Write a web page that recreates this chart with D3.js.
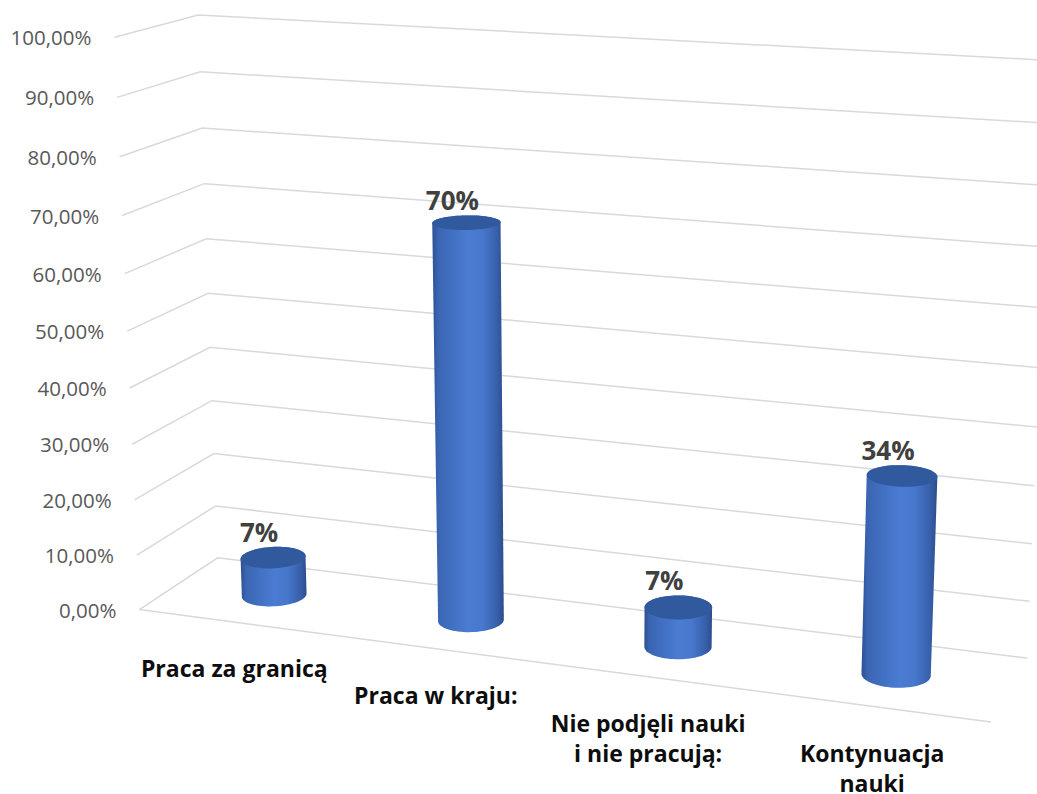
<!DOCTYPE html>
<html>
<head>
<meta charset="utf-8">
<script src="https://cdn.jsdelivr.net/npm/d3@7"></script>
<style>
  body { margin: 0; background: #fff; }
  svg { display: block; }
</style>
</head>
<body>
<div id="chart"></div>
<script>
// ---- data ----
const categories = ["Praca za granicą", "Praca w kraju:", "Nie podjęli nauki\ni nie pracują:", "Kontynuacja\nnauki"];
const values = [0.07, 0.70, 0.07, 0.34];
const yTicks = [0, 0.1, 0.2, 0.3, 0.4, 0.5, 0.6, 0.7, 0.8, 0.9, 1.0];

// ---- layout ----
const width = 1037, height = 794;

// view calibration: box corners of the 3D plot area (x 0..1, value 0..1, depth 0 front..1 back) -> pixels
const frame = [
  [[0, 0, 0], [140, 609]], [[0, 0.5, 0], [127, 332]], [[0, 1, 0], [114, 37]],
  [[0, 0, 1], [217, 558]], [[0, 0.5, 1], [208, 293]], [[0, 1, 1], [199, 15]],
  [[1, 0, 1], [1027, 658]], [[1, 0.2, 1], [1033, 544]], [[1, 0.4, 1], [1036, 427]],
  [[1, 0, 0], [991, 722]]
];

const plFormat = d3.formatLocale({ decimal: ",", thousands: " ", grouping: [3], currency: ["", " zł"] });
const tickFormat = plFormat.format(".2%");
const valueFormat = plFormat.format(".0%");

function solveLinear(M, r) {
  const n = r.length;
  const a = M.map((row, i) => [...row, r[i]]);
  for (let c = 0; c < n; c++) {
    let p = c;
    for (let i = c + 1; i < n; i++) if (Math.abs(a[i][c]) > Math.abs(a[p][c])) p = i;
    [a[c], a[p]] = [a[p], a[c]];
    for (let i = 0; i < n; i++) {
      if (i === c) continue;
      const f = a[i][c] / a[c][c];
      for (let j = c; j <= n; j++) a[i][j] -= f * a[c][j];
    }
  }
  return a.map((row, i) => row[n] / row[i]);
}

// least squares pinhole camera (DLT) from the frame points
function fitCamera(pairs) {
  const A = [], b = [];
  pairs.forEach(([[X, Y, Z], [u, v]]) => {
    u /= 1000; v /= 1000;
    A.push([X, Y, Z, 1, 0, 0, 0, 0, -u * X, -u * Y, -u * Z]); b.push(u);
    A.push([0, 0, 0, 0, X, Y, Z, 1, -v * X, -v * Y, -v * Z]); b.push(v);
  });
  const n = 11;
  const M = d3.range(n).map(i => d3.range(n).map(j => d3.sum(A, row => row[i] * row[j])));
  const r = d3.range(n).map(i => d3.sum(A, (row, k) => row[i] * b[k]));
  const p = solveLinear(M, r);
  return (X, Y, Z) => {
    const w = p[8] * X + p[9] * Y + p[10] * Z + 1;
    return [
      1000 * (p[0] * X + p[1] * Y + p[2] * Z + p[3]) / w,
      1000 * (p[4] * X + p[5] * Y + p[6] * Z + p[7]) / w
    ];
  };
}

const project = fitCamera(frame);

const x = d3.scaleBand().domain(categories).range([0, 1]);
const y = d3.scaleLinear().domain([0, 1]).range([0, 1]);
const zMid = 0.5;
const rX = 0.15 * x.bandwidth();
const rZ = 0.2;

const svg = d3.select("#chart").append("svg")
  .attr("width", width)
  .attr("height", height)
  .attr("viewBox", `0 0 ${width} ${height}`);

const defs = svg.append("defs");
const grad = defs.append("linearGradient")
  .attr("id", "cyl-body")
  .attr("x1", 0).attr("x2", 1).attr("y1", 0).attr("y2", 0);
grad.selectAll("stop")
  .data([
    { o: 0, c: "#2d5091" }, { o: 0.08, c: "#3a65b2" }, { o: 0.5, c: "#4a7cd3" },
    { o: 0.7, c: "#4778cc" }, { o: 0.9, c: "#3860ab" }, { o: 1, c: "#2c4d8c" }
  ])
  .enter().append("stop")
  .attr("offset", d => d.o)
  .attr("stop-color", d => d.c);

// gridlines: left wall + back wall
const line = d3.line();
const grid = svg.append("g").attr("fill", "none").attr("stroke", "#d9d9d9").attr("stroke-width", 1.5);
grid.selectAll("path.grid")
  .data(yTicks)
  .enter().append("path")
  .attr("class", "grid")
  .attr("d", v => line([project(0, y(v), 0), project(0, y(v), 1), project(1, y(v), 1)]));
// floor front edge (category axis)
grid.append("path").attr("d", line([project(0, 0, 0), project(1, 0, 0)]));

// value axis labels
svg.append("g")
  .selectAll("text")
  .data(yTicks)
  .enter().append("text")
  .attr("x", v => project(0, y(v), 0)[0] - 23)
  .attr("y", v => project(0, y(v), 0)[1])
  .attr("text-anchor", "end")
  .attr("dominant-baseline", "central")
  .attr("font-family", "Open Sans")
  .attr("font-size", 20.5)
  .attr("fill", "#595959")
  .text(v => tickFormat(v));

// cylinders
const steps = d3.range(0, 72).map(i => i / 72 * 2 * Math.PI);
function ring(cx, h) {
  return steps.map(t => project(cx + rX * Math.cos(t), h, zMid + rZ * Math.sin(t)));
}

const bars = svg.append("g");
categories.forEach((cat, i) => {
  const cx = x(cat) + x.bandwidth() / 2;
  const bottom = ring(cx, 0);
  const top = ring(cx, y(values[i]));
  const hull = d3.polygonHull(bottom.concat(top));
  bars.append("path")
    .attr("d", "M" + hull.join("L") + "Z")
    .attr("fill", "url(#cyl-body)");
  bars.append("path")
    .attr("d", "M" + top.join("L") + "Z")
    .attr("fill", "#31599d");

  const topY = d3.min(top, p => p[1]);
  const topC = project(cx, y(values[i]), zMid);
  bars.append("text")
    .attr("x", topC[0] - 14)
    .attr("y", topY - 5)
    .attr("text-anchor", "middle")
    .attr("font-family", "Open Sans")
    .attr("font-weight", "bold")
    .attr("font-size", 26)
    .attr("fill", "#404040")
    .text(valueFormat(values[i]));
});

// category labels
const catLabels = svg.append("g")
  .attr("font-family", "Open Sans")
  .attr("font-weight", "bold")
  .attr("font-size", 23)
  .attr("fill", "#0d0d0d")
  .attr("text-anchor", "middle");
categories.forEach(cat => {
  const p = project(x(cat) + x.bandwidth() / 2, 0, 0);
  const t = catLabels.append("text")
    .attr("x", p[0] - 2)
    .attr("y", p[1] + 55);
  cat.split("\n").forEach((ln, k) => {
    t.append("tspan").attr("x", p[0] - 2).attr("dy", k === 0 ? 0 : 30).text(ln);
  });
});
</script>
</body>
</html>
